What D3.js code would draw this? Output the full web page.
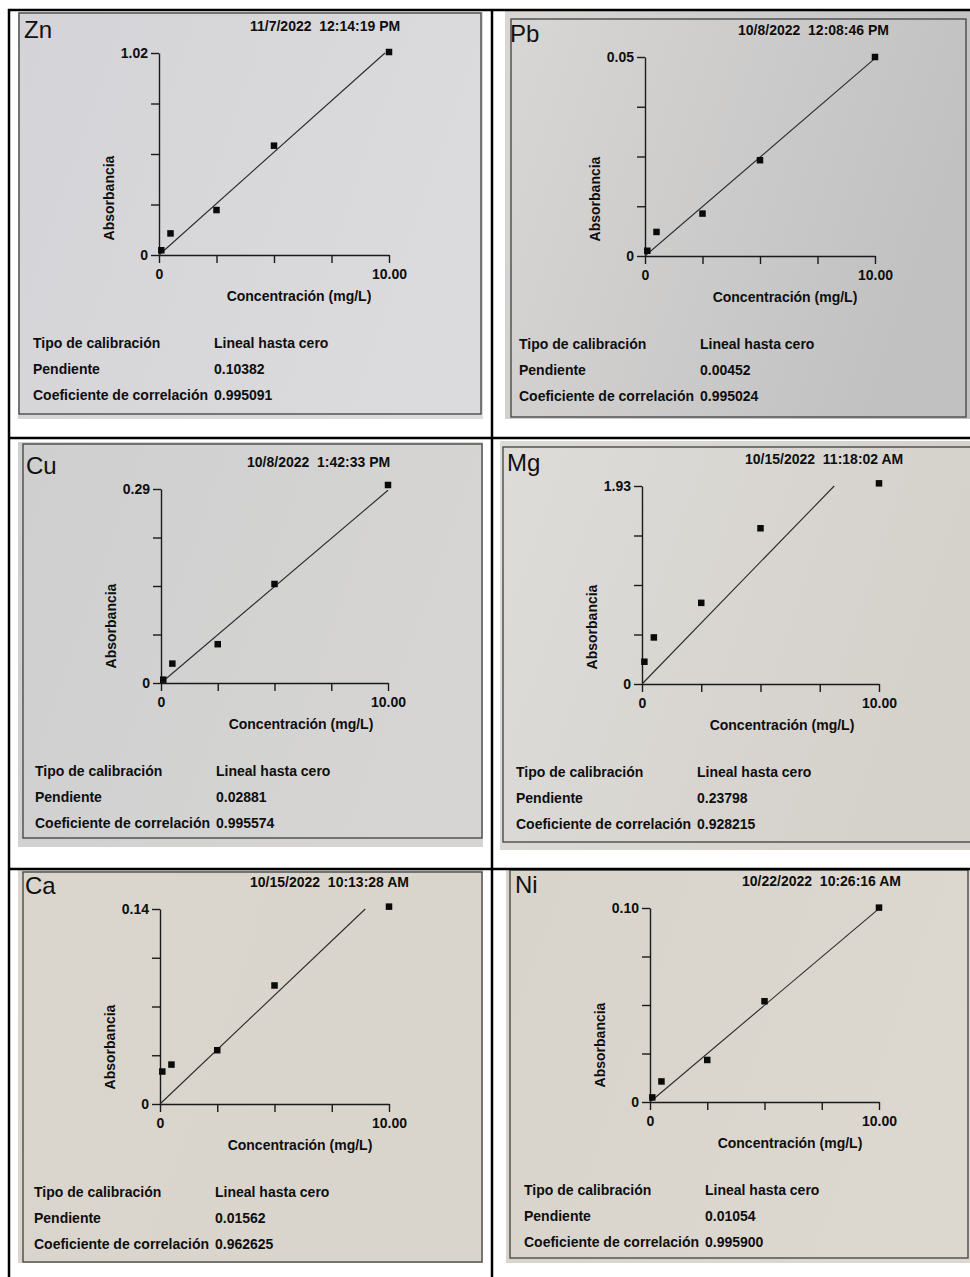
<!DOCTYPE html>
<html>
<head>
<meta charset="utf-8">
<script src="https://cdn.jsdelivr.net/npm/d3@7"></script>
<style>
  body { margin: 0; background: #fff; }
  svg text { font-family: "Liberation Sans", Arial, sans-serif; }
</style>
</head>
<body>
<svg id="chart" width="970" height="1277"></svg>
<script>
// datos de cada curva de calibración
const elements = ["Zn", "Pb", "Cu", "Mg", "Ca", "Ni"];
const timestamps = [
  "11/7/2022  12:14:19 PM",
  "10/8/2022  12:08:46 PM",
  "10/8/2022  1:42:33 PM",
  "10/15/2022  11:18:02 AM",
  "10/15/2022  10:13:28 AM",
  "10/22/2022  10:26:16 AM"
];
const concentrations = [0.1, 0.5, 2.5, 5, 10];
const absZn = [0.024, 0.109, 0.227, 0.552, 1.025];
const absPb = [0.0012, 0.0055, 0.0097, 0.0219, 0.0455];
const absCu = [0.005, 0.029, 0.058, 0.148, 0.296];
const absMg = [0.217, 0.454, 0.791, 1.518, 1.956];
const absCa = [0.0233, 0.0283, 0.0386, 0.0851, 0.1417];
const absNi = [0.0025, 0.0112, 0.0229, 0.0549, 0.1059];
const absorbances = [absZn, absPb, absCu, absMg, absCa, absNi];
const yTop = [1.02, 0.0455, 0.29, 1.93, 0.14, 0.1057];
const yTopLabels = ["1.02", "0.05", "0.29", "1.93", "0.14", "0.10"];
const slopes = [0.10382, 0.00452, 0.02881, 0.23798, 0.01562, 0.01054];
const slopeLabels = ["0.10382", "0.00452", "0.02881", "0.23798", "0.01562", "0.01054"];
const correlations = ["0.995091", "0.995024", "0.995574", "0.928215", "0.962625", "0.995900"];
const xTicks = [0, 2.5, 5, 7.5, 10];
const xMax = 10;
const calibrationType = "Lineal hasta cero";

// posición de cada foto dentro de la tabla
const layout = [
  { paper: [18, 12, 465, 407], frame: [19, 13, 462, 401], x0: 159, x1: 389, y0: 255, yT: 53, dateDx: 91, c1: "#d4d3d7", c2: "#dbdadc" },
  { paper: [505, 10, 465, 409], frame: [511, 19, 455, 398], x0: 645, x1: 875, y0: 256, yT: 57, dateDx: 93, c1: "#d8d7d6", c2: "#c2c1c1" },
  { paper: [18, 442, 465, 405], frame: [23, 444, 459, 394], x0: 161, x1: 388, y0: 683, yT: 489, dateDx: 86, c1: "#cfcfcf", c2: "#d6d5d4" },
  { paper: [500, 441, 470, 409], frame: [503, 447, 470, 395], x0: 642, x1: 879, y0: 684, yT: 486, dateDx: 103, c1: "#dddcd9", c2: "#d5d1cb" },
  { paper: [18, 870, 465, 393], frame: [23, 872, 459, 390], x0: 160, x1: 389, y0: 1104, yT: 909, dateDx: 90, c1: "#dad6cd", c2: "#d9d5cd" },
  { paper: [506, 869, 464, 394], frame: [510, 870, 458, 388], x0: 650, x1: 879, y0: 1102, yT: 908, dateDx: 92, c1: "#d8d4cb", c2: "#dcd8d0" }
];

const svg = d3.select("#chart");
const defs = svg.append("defs");

elements.forEach((el, i) => {
  const L = layout[i];
  const g = svg.append("g");

  // papel
  const grad = defs.append("linearGradient")
    .attr("id", "paper" + i)
    .attr("x1", 0).attr("y1", 0).attr("x2", 1).attr("y2", 0.3);
  grad.append("stop").attr("offset", "0%").attr("stop-color", L.c1);
  grad.append("stop").attr("offset", "100%").attr("stop-color", L.c2);

  g.append("rect")
    .attr("x", L.paper[0]).attr("y", L.paper[1])
    .attr("width", L.paper[2]).attr("height", L.paper[3])
    .attr("fill", `url(#paper${i})`);

  g.append("rect")
    .attr("x", L.frame[0]).attr("y", L.frame[1])
    .attr("width", L.frame[2]).attr("height", L.frame[3])
    .attr("fill", "none")
    .attr("stroke", "#4a4a4a")
    .attr("stroke-width", 1.4);

  const x = d3.scaleLinear().domain([0, xMax]).range([L.x0, L.x1]);
  const y = d3.scaleLinear().domain([0, yTop[i]]).range([L.y0, L.yT]);

  const txt = (sel) => sel
    .attr("fill", "#0e0e0e")
    .attr("font-size", 14)
    .attr("font-weight", "bold");

  // ejes
  const xAxis = d3.axisBottom(x)
    .tickValues(xTicks)
    .tickSize(8)
    .tickSizeOuter(0)
    .tickPadding(6)
    .tickFormat(d => d === 0 ? "0" : d === xMax ? "10.00" : "");
  const gx = g.append("g")
    .attr("transform", `translate(0,${L.y0})`)
    .call(xAxis);

  const yTicks = d3.range(5).map(k => yTop[i] * k / 4);
  const yAxis = d3.axisLeft(y)
    .tickValues(yTicks)
    .tickSize(8)
    .tickSizeOuter(0)
    .tickPadding(3)
    .tickFormat((d, k) => k === 0 ? "0" : k === 4 ? yTopLabels[i] : "");
  const gy = g.append("g")
    .attr("transform", `translate(${L.x0},0)`)
    .call(yAxis);

  [gx, gy].forEach(a => {
    a.selectAll("path, line").attr("stroke", "#1a1a1a").attr("stroke-width", 1.4);
    a.selectAll("text").call(txt).attr("font-family", null);
  });

  // recta de calibración
  const xEnd = Math.min(xMax, yTop[i] / slopes[i]);
  g.append("line")
    .attr("x1", x(0)).attr("y1", y(0))
    .attr("x2", x(xEnd)).attr("y2", y(slopes[i] * xEnd))
    .attr("stroke", "#2a2a2a")
    .attr("stroke-width", 1.1);

  // patrones
  const s = 6.5;
  g.append("g").selectAll("rect")
    .data(concentrations.map((c, k) => [c, absorbances[i][k]]))
    .join("rect")
    .attr("x", d => x(d[0]) - s / 2)
    .attr("y", d => y(d[1]) - s / 2)
    .attr("width", s).attr("height", s)
    .attr("fill", "#0a0a0a");

  // textos
  g.append("text")
    .attr("x", L.x0 - 135).attr("y", L.yT - 15)
    .attr("font-size", 24)
    .attr("fill", "#111")
    .text(el);

  g.append("text")
    .attr("x", L.x0 + L.dateDx).attr("y", L.yT - 22)
    .call(txt)
    .attr("xml:space", "preserve")
    .style("white-space", "pre")
    .text(timestamps[i]);

  g.append("text")
    .attr("x", L.x0 + 140).attr("y", L.y0 + 46)
    .attr("text-anchor", "middle")
    .call(txt)
    .text("Concentración (mg/L)");

  g.append("text")
    .attr("transform", `translate(${L.x0 - 45},${L.y0 - 57}) rotate(-90)`)
    .attr("text-anchor", "middle")
    .call(txt)
    .text("Absorbancia");

  const rows = [
    ["Tipo de calibración", calibrationType],
    ["Pendiente", slopeLabels[i]],
    ["Coeficiente de correlación", correlations[i]]
  ];
  rows.forEach((r, k) => {
    g.append("text")
      .attr("x", L.x0 - 126).attr("y", L.y0 + 93 + k * 26)
      .call(txt).text(r[0]);
    g.append("text")
      .attr("x", L.x0 + 55).attr("y", L.y0 + 93 + k * 26)
      .call(txt).text(r[1]);
  });
});

// bordes de la tabla
const borders = [
  [8, 10, 970, 10],
  [9, 9, 9, 1277],
  [492, 9, 492, 1277],
  [8, 438, 970, 438],
  [8, 869, 970, 869]
];
svg.append("g").selectAll("line")
  .data(borders)
  .join("line")
  .attr("x1", d => d[0]).attr("y1", d => d[1])
  .attr("x2", d => d[2]).attr("y2", d => d[3])
  .attr("stroke", "#000")
  .attr("stroke-width", 2.5);
</script>
</body>
</html>
